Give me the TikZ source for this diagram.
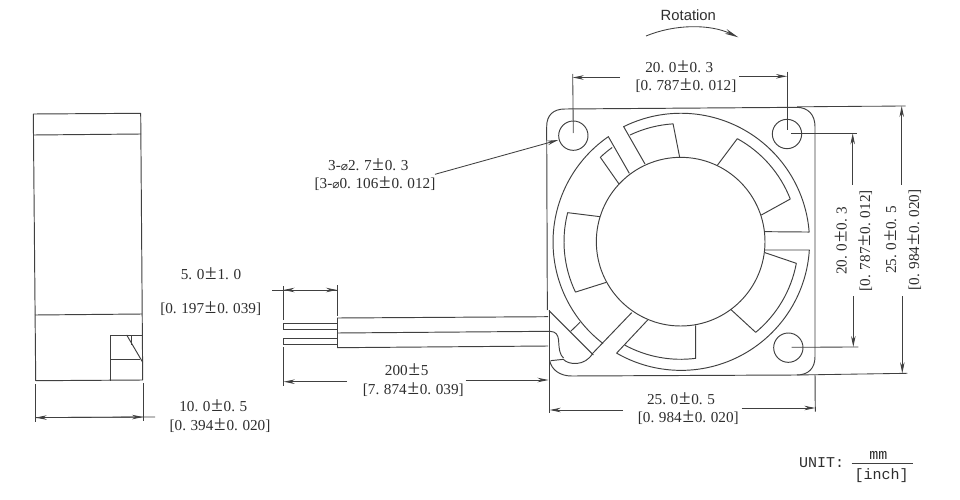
\documentclass[tikz,border=0pt]{standalone}
\usepackage{fontspec}
\usetikzlibrary{arrows.meta}
\setmainfont{Liberation Serif}
\newfontfamily\rotfont{Liberation Sans}
\newfontfamily\unitfont{Liberation Mono}
\newfontfamily\symfont{DejaVu Sans}
\newcommand\PP{.\kern.3em}
\newcommand\PM{\kern.8pt\smash{\fontsize{21}{21}\selectfont ±}\kern.8pt}
\newcommand\DIA{\smash{\symfont\fontsize{12}{12}\selectfont ⌀}}
\definecolor{ink}{HTML}{404040}
\definecolor{txt}{HTML}{2E2E2E}
\tikzset{
  part/.style={draw=ink,line width=0.95pt,line join=round},
  dimline/.style={draw=ink,line width=0.85pt},
  dimarrow/.style={draw=ink,line width=0.85pt,-{Stealth[length=11pt,width=4.5pt]}},
  lab/.style={inner sep=0pt,text=txt,text height=10pt,text depth=0pt,font=\fontsize{15.2}{15.2}\selectfont},
  vlab/.style={lab,rotate=90},
  unitlab/.style={inner sep=0pt,text=txt,font=\unitfont\fontsize{15}{15}\selectfont},
}
\begin{document}
\begin{tikzpicture}[x=1pt,y=-1pt]
\useasboundingbox (0,0) rectangle (960,500);
\fill[white] (0,0) rectangle (960,500);

% ---------- side view
\draw[part] (33.3,114) -- (140.7,113.3) -- (142.7,380) -- (35.7,380.7) -- cycle;
\draw[part] (33.6,135) -- (141,134);
\draw[part] (35,315) -- (142.2,314);
\draw[part] (110.7,380.5) -- (110.7,335) -- (142.7,335);
\draw[part] (110.7,359) -- (140,359);
\draw[part] (126.7,335) -- (142.7,362.3);
\draw[part] (131.7,335) -- (131.7,345);

\coordinate (sL) at (35.7,417.6);
\coordinate (sR) at (143,417);
\coordinate (sRe) at (155,417);
\draw[dimline] (35.7,384.3) -- (35.7,421.7);
\draw[dimline] (143,383.3) -- (143,420.7);
\draw[dimarrow] (sRe) -- (sL);
\draw[dimarrow] (sL) -- (sR);
\node[lab] (sA) at (213.3,406.7) {10\PP 0\PM 0\PP 5};
\node[lab] (sB) at (220,425.3) {[0\PP 394\PM 0\PP 020]};

% ---------- wires
\draw[part] (283.3,323.3) -- (337,323.3);
\draw[part] (283.3,329.3) -- (337,329.3);
\draw[part] (283.3,323.3) -- (283.3,329.3);
\draw[part] (283.3,338) -- (337,338);
\draw[part] (283.3,344) -- (337,344);
\draw[part] (283.3,338) -- (283.3,344);
\draw[part] (337,318) -- (337,347.7);
\draw[part] (337,318) -- (548,316.7);
\draw[part] (337,347.7) -- (548,346);
\draw[part] (337,333) -- (550,331.3) .. controls (556,331.5) and (558,335) .. (558.6,340)
  .. controls (559,350) and (560,355) .. (563.5,358);

% ---------- wire length dims
\coordinate (wa) at (283.5,290);
\coordinate (wb) at (337,290);
\coordinate (we) at (272,290);
\draw[dimline] (283.3,286) -- (283.3,320);
\draw[dimline] (337,285) -- (337,316);
\draw[dimarrow] (wb) -- (wa);
\draw[dimarrow] (we) -- (wb);
\node[lab] (wA) at (211,274) {5\PP 0\PM 1\PP 0};
\node[lab] (wB) at (210.7,308.3) {[0\PP 197\PM 0\PP 039]};

\coordinate (la) at (283.7,381.7);
\coordinate (lb) at (347,381.7);
\coordinate (lc) at (465.7,380);
\coordinate (ld) at (548.5,380);
\draw[dimline] (283.7,347) -- (283.7,386);
\draw[dimarrow] (lb) -- (la);
\draw[dimarrow] (lc) -- (ld);
\node[lab] (lA) at (406.7,370.4) {200\PM 5};
\node[lab] (lB) at (413.3,389.6) {[7\PP 874\PM 0\PP 039]};

% ---------- fan, in 3x zoom coordinates
\begin{scope}[shift={(530,90)},x=0.33333pt,y=-0.33333pt]
  % frame
  \draw[part] (50,110) -- (52,660);
  \draw[part] (50,110) .. controls (50,75) and (70,57) .. (105,57) -- (800,52)
     .. controls (835,52) and (855,75) .. (855,110) -- (855,800)
     .. controls (855,835) and (835,855) .. (800,855) -- (125,858)
     .. controls (90,858) and (65,840) .. (59,812);
  % holes
  \draw[part] (130,137) circle[radius=44];
  \draw[part] (771,132) circle[radius=44];
  \draw[part] (775,773) circle[radius=44];
  % hub
  \draw[part] (452,455) circle[radius=253];
  % ring
  \draw[part] (345,222) -- (281,110) arc[start angle=-116.4,end angle=-4.4,radius=386] -- (705,425);
  \draw[part] (705,480) -- (838,480) arc[start angle=3.7,end angle=120,radius=386] -- (353,690);
  \draw[part] (298,250) -- (235,140) arc[start angle=235.4,end angle=127.5,radius=384];
  \draw[part] (188,790) -- (305,668);
  % blades
  \draw[part] (300,135) arc[start angle=-115.4,end angle=-93.6,radius=353] -- (449,202);
  \draw[part] (562,226) -- (622,146) arc[start angle=-61.2,end angle=-21.3,radius=353] -- (694,375);
  \draw[part] (705,488) -- (799,520) arc[start angle=10.6,end angle=50.4,radius=353] -- (602,658);
  \draw[part] (497,706) -- (497,805) arc[start angle=82.7,end angle=118.4,radius=353];
  \draw[part] (210,380) -- (113,368) arc[start angle=194.4,end angle=154.4,radius=350] -- (229,577);
  \draw[part] (267,282) -- (211,202) arc[start angle=-133.6,end angle=-126,radius=349];
  % lower-left corner
  \draw[part] (57,662) -- (190,795);
  \draw[part] (122,724) -- (150,697);
  \draw[part] (62,812) -- (100,808) .. controls (115,825) and (165,830) .. (188,790);
\end{scope}
\draw[part] (549.7,310) -- (549.7,413);
\draw[part] (815,375) -- (815.3,411.7);

% ---------- top dim
\coordinate (ta) at (572.7,77.5);
\coordinate (tb) at (620,77.5);
\coordinate (tc) at (739,76.3);
\coordinate (td) at (787,76.3);
\draw[dimline] (572.7,74) -- (573.3,133);
\draw[dimline] (787,71.7) -- (787,130);
\draw[dimarrow] (tb) -- (ta);
\draw[dimarrow] (tc) -- (td);
\node[lab] (tA) at (679.3,67.7) {20\PP 0\PM 0\PP 3};
\node[lab] (tB) at (686,86) {[0\PP 787\PM 0\PP 012]};

% ---------- bottom dim
\coordinate (ba) at (549.7,410);
\coordinate (bb) at (623,410);
\coordinate (bc) at (741.7,408);
\coordinate (bd) at (815.3,408);
\draw[dimarrow] (bb) -- (ba);
\draw[dimarrow] (bc) -- (bd);
\node[lab] (bA) at (681,399.3) {25\PP 0\PM 0\PP 5};
\node[lab] (bB) at (688.3,417.7) {[0\PP 984\PM 0\PP 020]};

% ---------- right dims
\draw[dimline] (791,133.3) -- (857.3,133.3);
\draw[dimline] (791.7,347.3) -- (858.3,347);
\draw[dimline] (797,106.8) -- (905.7,106);
\draw[dimline] (797,375) -- (907.3,373.3);
\coordinate (ra) at (852.7,133.3);
\coordinate (rb) at (852.7,184.7);
\coordinate (rc) at (853.3,296);
\coordinate (rd) at (853.3,347);
\coordinate (qa) at (901.7,106);
\coordinate (qb) at (901.7,184.7);
\coordinate (qc) at (902.3,296);
\coordinate (qd) at (902.3,373.3);
\draw[dimarrow] (rb) -- (ra);
\draw[dimarrow] (rc) -- (rd);
\draw[dimarrow] (qb) -- (qa);
\draw[dimarrow] (qc) -- (qd);
\node[vlab] (rA) at (841.7,240.7) {20\PP 0\PM 0\PP 3};
\node[vlab] (rB) at (865,240.7) {[0\PP 787\PM 0\PP 012]};
\node[vlab] (qA) at (891,240) {25\PP 0\PM 0\PP 5};
\node[vlab] (qB) at (914,240) {[0\PP 984\PM 0\PP 020]};

% ---------- hole callout
\node[lab] (hA) at (368.3,165) {3-\DIA 2\PP 7\PM 0\PP 3};
\node[lab] (hB) at (375,183.3) {[3-\DIA 0\PP 106\PM 0\PP 012]};
\coordinate (hs) at (435,174.3);
\coordinate (he) at (558.3,140);
\draw[dimarrow] (hs) -- (he);

% ---------- rotation
\node[inner sep=0pt,text=txt,font=\rotfont\fontsize{14.8}{14.8}\selectfont] (rot) at (688.3,15.7) {Rotation};
\coordinate (ro) at (646,36);
\coordinate (re) at (738.3,37.3);
\draw[dimline,-{Stealth[length=14pt,width=5pt]}] (ro) .. controls (675,24) and (710,24) .. (re);

% ---------- unit
\node[unitlab] (uA) at (821.7,462.7) {UNIT:};
\node[unitlab] (uB) at (878.3,455) {mm};
\node[unitlab] (uC) at (881.7,475.7) {[inch]};
\coordinate (ua) at (851.7,463.7);
\coordinate (ub) at (913.3,463.7);
\draw[dimline] (ua) -- (ub);
\end{tikzpicture}
\end{document}
